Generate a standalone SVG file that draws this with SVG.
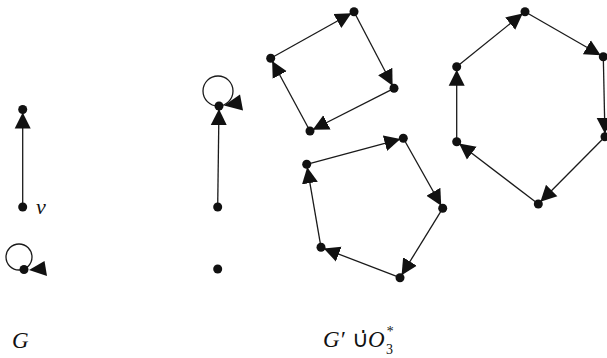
<svg xmlns="http://www.w3.org/2000/svg" width="607" height="358" viewBox="0 0 607 358">
<style>
.e{stroke:#1a1a1a;stroke-width:1.3;fill:none}
.n{fill:#111}
.a{fill:#111}
.t{font-family:"Liberation Serif","Times New Roman",serif;font-style:italic;fill:#111}
</style>
<defs>
<marker id="ah" markerUnits="userSpaceOnUse" markerWidth="20" markerHeight="18" viewBox="0 -9 20 18" refX="19" refY="0" orient="auto">
<path d="M0,-8 L16,0 L0,8 z" fill="#111"/>
</marker>
</defs>
<rect width="607" height="358" fill="#fff"/>
<g id="connectors">
<line class="e" x1="22.7" y1="207" x2="22.7" y2="109.5" marker-end="url(#ah)"/>
<circle class="e" cx="19" cy="257" r="13"/>
<polygon class="a" points="29,270 44.5,261 47,276"/>
<line class="e" x1="217.7" y1="207" x2="219" y2="106" marker-end="url(#ah)"/>
<circle class="e" cx="218" cy="91" r="15"/>
<polygon class="a" points="224,105.5 240,94.5 243,110.5"/>
<line class="e" x1="270.7" y1="58.3" x2="354" y2="11.7" marker-end="url(#ah)"/>
<line class="e" x1="354" y1="11.7" x2="394" y2="88.3" marker-end="url(#ah)"/>
<line class="e" x1="394" y1="88.3" x2="310" y2="131" marker-end="url(#ah)"/>
<line class="e" x1="310" y1="131" x2="270.7" y2="58.3" marker-end="url(#ah)"/>
<line class="e" x1="306.7" y1="164.3" x2="403.3" y2="138.3" marker-end="url(#ah)"/>
<line class="e" x1="403.3" y1="138.3" x2="442.7" y2="208.3" marker-end="url(#ah)"/>
<line class="e" x1="442.7" y1="208.3" x2="400" y2="277.7" marker-end="url(#ah)"/>
<line class="e" x1="400" y1="277.7" x2="321" y2="247.3" marker-end="url(#ah)"/>
<line class="e" x1="321" y1="247.3" x2="306.7" y2="164.3" marker-end="url(#ah)"/>
<line class="e" x1="456.7" y1="66.7" x2="525" y2="11.7" marker-end="url(#ah)"/>
<line class="e" x1="525" y1="11.7" x2="603.3" y2="56.7" marker-end="url(#ah)"/>
<line class="e" x1="603.3" y1="56.7" x2="605" y2="136.7" marker-end="url(#ah)"/>
<line class="e" x1="605" y1="136.7" x2="538.3" y2="204" marker-end="url(#ah)"/>
<line class="e" x1="538.3" y1="204" x2="456.7" y2="141.7" marker-end="url(#ah)"/>
<line class="e" x1="456.7" y1="141.7" x2="456.7" y2="66.7" marker-end="url(#ah)"/>
</g>
<g id="n-left-top"><circle class="n" cx="22.7" cy="109.5" r="4.5"/></g>
<g id="n-v"><circle class="n" cx="22.7" cy="207" r="4.5"/><text class="t" x="36" y="214" font-size="22">v</text></g>
<g id="n-left-loop"><circle class="n" cx="24" cy="269.5" r="4.5"/></g>
<g id="n-mid-top"><circle class="n" cx="219" cy="106" r="4.5"/></g>
<g id="n-mid-mid"><circle class="n" cx="217.7" cy="207" r="4.5"/></g>
<g id="n-mid-bot"><circle class="n" cx="217.7" cy="269" r="4.5"/></g>
<g id="n-sq1"><circle class="n" cx="354" cy="11.7" r="4.5"/></g>
<g id="n-sq2"><circle class="n" cx="394" cy="88.3" r="4.5"/></g>
<g id="n-sq3"><circle class="n" cx="310" cy="131" r="4.5"/></g>
<g id="n-sq4"><circle class="n" cx="270.7" cy="58.3" r="4.5"/></g>
<g id="n-p1"><circle class="n" cx="403.3" cy="138.3" r="4.5"/></g>
<g id="n-p2"><circle class="n" cx="442.7" cy="208.3" r="4.5"/></g>
<g id="n-p3"><circle class="n" cx="400" cy="277.7" r="4.5"/></g>
<g id="n-p4"><circle class="n" cx="321" cy="247.3" r="4.5"/></g>
<g id="n-p5"><circle class="n" cx="306.7" cy="164.3" r="4.5"/></g>
<g id="n-h1"><circle class="n" cx="525" cy="11.7" r="4.5"/></g>
<g id="n-h2"><circle class="n" cx="603.3" cy="56.7" r="4.5"/></g>
<g id="n-h3"><circle class="n" cx="605" cy="136.7" r="4.5"/></g>
<g id="n-h4"><circle class="n" cx="538.3" cy="204" r="4.5"/></g>
<g id="n-h5"><circle class="n" cx="456.7" cy="141.7" r="4.5"/></g>
<g id="n-h6"><circle class="n" cx="456.7" cy="66.7" r="4.5"/></g>
<g id="labels">
<text class="t" x="12" y="348" font-size="23">G</text>
<text class="t" font-size="23" y="347"><tspan x="323">G′</tspan><tspan x="352" font-style="normal">∪̇</tspan><tspan x="368">O</tspan><tspan x="386" y="354" font-style="normal" font-size="14">3</tspan></text>
<text class="t" x="386" y="336" font-style="normal" font-size="14">*</text>
</g>
</svg>
